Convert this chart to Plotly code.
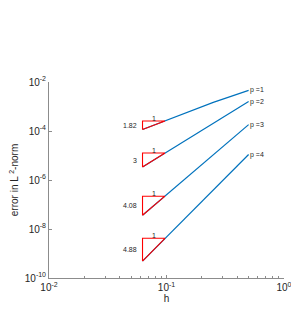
import numpy as np
import plotly.graph_objects as go

h = [0.0625, 0.125, 0.25, 0.5]
series_names = ["p =1", "p =2", "p =3", "p =4"]
log_err_p1 = [-3.94, -3.37, -2.83, -2.34]
log_err_p2 = [-5.47, -4.57, -3.68, -2.80]
log_err_p3 = [-7.44, -6.22, -4.98, -3.74]
log_err_p4 = [-9.31, -7.85, -6.38, -4.96]
rates = [1.82, 3, 4.08, 4.88]
rate_labels = ["1.82", "3", "4.08", "4.88"]
tri_h = [0.0625, 0.097]
x_tick_exp = [-2, -1, 0]
y_tick_exp = [-10, -8, -6, -4, -2]
x_minor_ticks = [m * 10.0 ** e for e in (-2, -1) for m in range(2, 10)]

series = [log_err_p1, log_err_p2, log_err_p3, log_err_p4]
FONT = "Liberation Sans, Arial, sans-serif"
BLUE = "#0072BD"
TXT = "#262626"
AX = "#8c8c8c"

fig = go.Figure()
annotations = []
for name, lv, r, rl in zip(series_names, series, rates, rate_labels):
    err = [10 ** v for v in lv]
    fig.add_trace(go.Scatter(x=h, y=err, mode="lines",
                             line=dict(color=BLUE, width=1.2), showlegend=False))
    y0 = err[0]
    ytop = y0 * (tri_h[1] / tri_h[0]) ** r
    fig.add_trace(go.Scatter(x=[tri_h[0], tri_h[0], tri_h[1], tri_h[0]],
                             y=[y0, ytop, ytop, y0], mode="lines",
                             line=dict(color="#FF0000", width=1.1), showlegend=False))
    annotations.append(dict(x=np.log10(h[-1]), y=lv[-1], xref="x", yref="y",
                            text=name, showarrow=False, xanchor="left", yanchor="middle",
                            xshift=-1, font=dict(size=7, color=TXT, family=FONT)))
    annotations.append(dict(x=np.log10(tri_h[0]), y=(np.log10(y0) + np.log10(ytop)) / 2,
                            xref="x", yref="y", text=rl, showarrow=False,
                            xanchor="right", yanchor="middle", xshift=-4,
                            font=dict(size=7, color=TXT, family=FONT)))
    annotations.append(dict(x=(np.log10(tri_h[0]) + np.log10(tri_h[1])) / 2, y=np.log10(ytop),
                            xref="x", yref="y", text="1", showarrow=False,
                            xanchor="center", yanchor="bottom", yshift=-3,
                            font=dict(size=7, color=TXT, family=FONT)))

axis_common = dict(type="log", showgrid=False, zeroline=False, showline=True,
                   linecolor=AX, linewidth=1, ticks="inside", ticklen=3,
                   tickcolor=AX, automargin=False,
                   tickfont=dict(size=10, color=TXT, family=FONT), mirror=False)

fig.update_layout(
    width=291, height=303,
    margin=dict(l=41, r=15, t=74, b=33),
    paper_bgcolor="white", plot_bgcolor="white",
    xaxis=dict(range=[-2, 0], tickmode="array",
               tickvals=[10.0 ** e for e in x_tick_exp],
               ticktext=["10<sup>%d</sup>" % e for e in x_tick_exp],
               title=dict(text="h", font=dict(size=10, color=TXT, family=FONT), standoff=2),
               minor=dict(ticks="inside", ticklen=2, tickcolor=AX, showgrid=False,
                          tickmode="array", tickvals=x_minor_ticks),
               **axis_common),
    yaxis=dict(range=[-10, -2], tickmode="array",
               tickvals=[10.0 ** e for e in y_tick_exp],
               ticktext=["10<sup>%d</sup>" % e for e in y_tick_exp],
               title=dict(text="error in L <sup>2</sup>-norm",
                          font=dict(size=10, color=TXT, family=FONT), standoff=4),
               **axis_common),
    annotations=annotations,
)

fig.write_html("out.html")
